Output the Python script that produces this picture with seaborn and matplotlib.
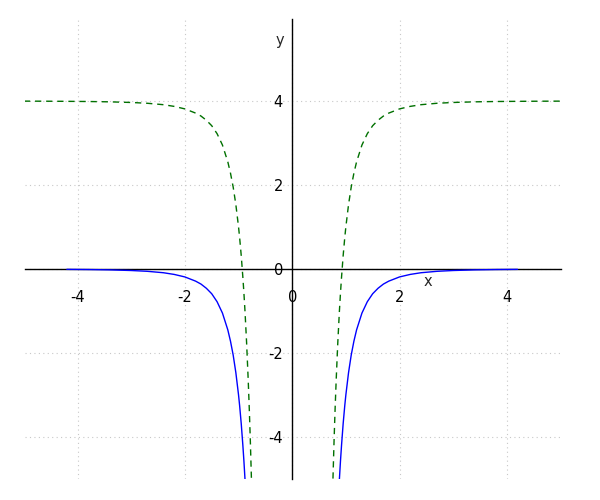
import matplotlib
matplotlib.use("Agg")
import matplotlib.pyplot as plt
import seaborn as sns
import pandas as pd
import numpy as np

# values (right half; the curves are mirror images)
blue_x = [0.88, 0.90, 0.92, 0.95, 0.98, 1.00, 1.05, 1.10, 1.15, 1.20, 1.30, 1.40,
          1.50, 1.60, 1.70, 1.80, 2.00, 2.20, 2.40, 2.70, 3.00, 3.40, 3.80, 4.20]
blue_y = [-5.00, -4.57, -4.19, -3.68, -3.25, -3.00, -2.47, -2.05, -1.72, -1.45, -1.05, -0.78,
          -0.59, -0.46, -0.36, -0.29, -0.19, -0.13, -0.09, -0.056, -0.037, -0.022, -0.014, -0.0096]

green_x = [0.76, 0.78, 0.80, 0.82, 0.85, 0.88, 0.90, 0.92, 0.95, 0.98, 1.00, 1.05, 1.10,
           1.15, 1.20, 1.30, 1.40, 1.50, 1.60, 1.70, 1.80, 2.00, 2.20, 2.40, 2.70, 3.00,
           3.40, 3.80, 4.20, 4.60, 5.00]
green_y = [-4.99, -4.10, -3.32, -2.64, -1.75, -1.00, -0.57, -0.19, 0.32, 0.75, 1.00, 1.53, 1.95,
           2.28, 2.55, 2.95, 3.22, 3.41, 3.54, 3.64, 3.71, 3.81, 3.87, 3.91, 3.944, 3.963,
           3.978, 3.986, 3.990, 3.993, 3.995]

x_ticks = [-4, -2, 0, 2, 4]
y_ticks = [-4, -2, 0, 2, 4]


def halves(xs, ys):
    right = pd.DataFrame({"x": xs, "y": ys})
    left = pd.DataFrame({"x": [-v for v in xs[::-1]], "y": ys[::-1]})
    return left, right


sns.set_style("white")
plt.rcParams["font.family"] = ["DejaVu Sans"]

fig = plt.figure(figsize=(6, 5), dpi=100)
ax = fig.add_axes([25 / 600, 21 / 500, 536 / 600, 460 / 500])

for part in halves(green_x, green_y):
    sns.lineplot(data=part, x="x", y="y", ax=ax, sort=False, estimator=None,
                 color="#007000", linewidth=1.0, linestyle=(0, (4.5, 3.5)))
for part in halves(blue_x, blue_y):
    sns.lineplot(data=part, x="x", y="y", ax=ax, sort=False, estimator=None,
                 color="#0000ff", linewidth=1.0)

ax.set_xlim(-4.98, 5.01)
ax.set_ylim(-5, 5.95)
ax.set_xticks(x_ticks)
ax.set_yticks(y_ticks)
ax.set_xticklabels([str(t) for t in x_ticks])
ax.set_yticklabels([str(t) for t in y_ticks])

ax.grid(True, color="#c8c8c8", linestyle=(0, (1, 3)), linewidth=0.8)
ax.set_axisbelow(True)

ax.spines["left"].set_position(("data", 0))
ax.spines["bottom"].set_position(("data", 0))
ax.spines["right"].set_visible(False)
ax.spines["top"].set_visible(False)
for s in ("left", "bottom"):
    ax.spines[s].set_color("black")
    ax.spines[s].set_linewidth(1.0)
    ax.spines[s].set_zorder(1.5)

ax.tick_params(axis="both", direction="out", length=3.8, width=1, color="black",
               labelsize=10.5, labelcolor="black")
ax.tick_params(axis="x", pad=11.5)
ax.tick_params(axis="y", pad=2.8)

ax.set_xlabel("")
ax.set_ylabel("")
ax.text(2.52, -0.30, "x", ha="center", va="center", fontsize=10.5)
ax.text(-0.22, 5.45, "y", ha="center", va="center", fontsize=10.5)

fig.savefig("out.png", dpi=100)
